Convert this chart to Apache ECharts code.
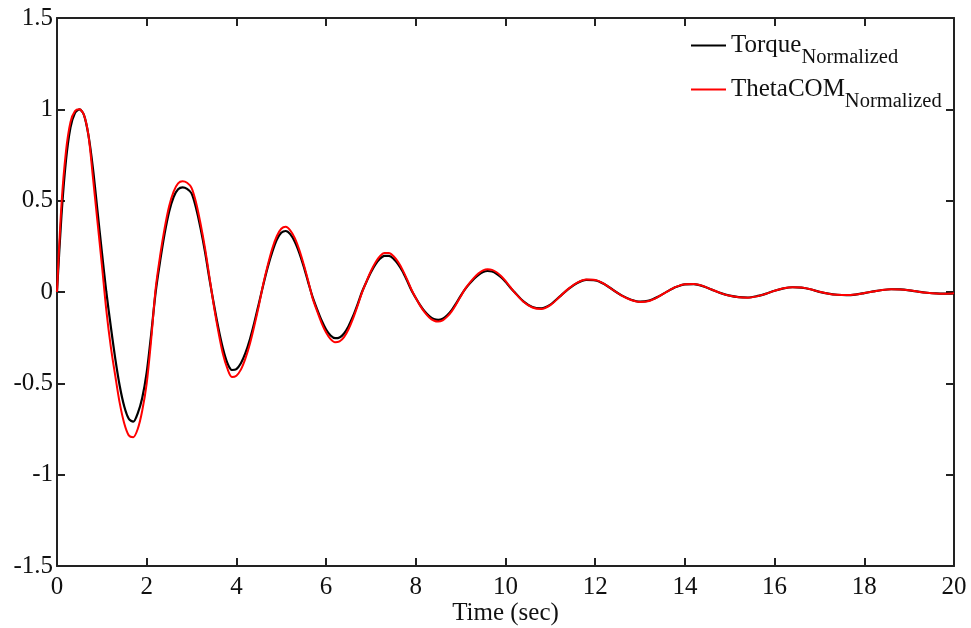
<!DOCTYPE html>
<html>
<head>
<meta charset="utf-8">
<script src="https://cdn.jsdelivr.net/npm/echarts@6/dist/echarts.min.js"></script>
<style>
html,body{margin:0;padding:0;background:#fff;}
#chart{width:971px;height:628px;}
</style>
</head>
<body>
<div id="chart"></div>
<script>
// ---- Data ----
var xTicks = [0, 2, 4, 6, 8, 10, 12, 14, 16, 18, 20];
var yTicks = [-1.5, -1, -0.5, 0, 0.5, 1, 1.5];
var seriesNames = ['Torque', 'ThetaCOM'];
var subscript = 'Normalized';
var xTitle = 'Time (sec)';

var time = [
  0, 0.1, 0.2, 0.3, 0.4, 0.5, 0.6, 0.7, 0.8, 0.9,
  1.0, 1.1, 1.2, 1.3, 1.4, 1.5, 1.6, 1.7, 1.8, 1.9,
  2.0, 2.1, 2.2, 2.3, 2.4, 2.5, 2.6, 2.7, 2.8, 2.9,
  3.0, 3.1, 3.2, 3.3, 3.4, 3.5, 3.6, 3.7, 3.8, 3.9,
  4.0, 4.1, 4.2, 4.3, 4.4, 4.5, 4.6, 4.7, 4.8, 4.9,
  5.0, 5.1, 5.2, 5.3, 5.4, 5.5, 5.6, 5.7, 5.8, 5.9,
  6.0, 6.1, 6.2, 6.3, 6.4, 6.5, 6.6, 6.7, 6.8, 6.9,
  7.0, 7.1, 7.2, 7.3, 7.4, 7.5, 7.6, 7.7, 7.8, 7.9,
  8.0, 8.1, 8.2, 8.3, 8.4, 8.5, 8.6, 8.7, 8.8, 8.9,
  9.0, 9.1, 9.2, 9.3, 9.4, 9.5, 9.6, 9.7, 9.8, 9.9,
  10.0, 10.1, 10.2, 10.4, 10.6, 10.8,
  11.0, 11.2, 11.4, 11.6, 11.8,
  12.0, 12.2, 12.4, 12.6, 12.8,
  13.0, 13.2, 13.4, 13.6, 13.8,
  14.0, 14.2, 14.4, 14.6, 14.8,
  15.0, 15.2, 15.4, 15.6, 15.8,
  16.0, 16.2, 16.4, 16.6, 16.8,
  17.0, 17.2, 17.4, 17.6, 17.8,
  18.0, 18.2, 18.4, 18.6, 18.8,
  19.0, 19.2, 19.4, 19.6, 19.8,
  20.0
];

var torque = [
  0, 0.42, 0.72, 0.90, 0.98, 1.0, 0.97, 0.86, 0.68, 0.45,
  0.22, 0.0, -0.19, -0.366, -0.516, -0.627, -0.694, -0.71, -0.664, -0.58,
  -0.44, -0.23, 0.0, 0.17, 0.32, 0.44, 0.52, 0.562, 0.573, 0.565,
  0.54, 0.46, 0.35, 0.22, 0.07, -0.07, -0.20, -0.31, -0.39, -0.427,
  -0.422, -0.39, -0.335, -0.26, -0.167, -0.064, 0.04, 0.137, 0.22, 0.286,
  0.324, 0.334, 0.317, 0.277, 0.216, 0.14, 0.054, -0.028, -0.095, -0.156,
  -0.205, -0.238, -0.253, -0.249, -0.227, -0.187, -0.133, -0.069, 0.0, 0.056,
  0.108, 0.151, 0.182, 0.198, 0.198, 0.183, 0.154, 0.115, 0.065, 0.011,
  -0.033, -0.073, -0.107, -0.132, -0.148, -0.153, -0.146, -0.127, -0.099, -0.062,
  -0.021, 0.016, 0.046, 0.073, 0.094, 0.109, 0.115, 0.112, 0.10, 0.081,
  0.056, 0.026, 0.0, -0.051, -0.082, -0.089,
  -0.069, -0.027, 0.016, 0.049, 0.066,
  0.064, 0.044, 0.011, -0.020, -0.042,
  -0.053, -0.047, -0.026, 0.002, 0.027,
  0.042, 0.043, 0.032, 0.013, -0.006,
  -0.020, -0.028, -0.030, -0.023, -0.010,
  0.007, 0.020, 0.026, 0.024, 0.015,
  0.001, -0.009, -0.015, -0.017, -0.014,
  -0.006, 0.003, 0.011, 0.015, 0.014,
  0.009, 0.002, -0.004, -0.008, -0.009,
  -0.007
];

var theta = [
  0, 0.48, 0.77, 0.93, 0.99, 1.0, 0.97, 0.86, 0.63, 0.39,
  0.15, -0.10, -0.30, -0.46, -0.61, -0.72, -0.785, -0.795, -0.75, -0.65,
  -0.50, -0.26, 0.02, 0.20, 0.35, 0.47, 0.55, 0.595, 0.606, 0.598,
  0.57, 0.49, 0.375, 0.24, 0.08, -0.08, -0.22, -0.34, -0.42, -0.465,
  -0.458, -0.425, -0.365, -0.285, -0.185, -0.075, 0.045, 0.148, 0.238, 0.305,
  0.346, 0.357, 0.338, 0.296, 0.232, 0.152, 0.062, -0.035, -0.105, -0.17,
  -0.222, -0.258, -0.275, -0.27, -0.247, -0.204, -0.146, -0.077, -0.003, 0.058,
  0.115, 0.162, 0.196, 0.213, 0.213, 0.197, 0.166, 0.124, 0.072, 0.015,
  -0.033, -0.076, -0.112, -0.139, -0.156, -0.162, -0.155, -0.135, -0.106, -0.067,
  -0.024, 0.017, 0.050, 0.079, 0.102, 0.118, 0.124, 0.121, 0.108, 0.088,
  0.061, 0.029, -0.002, -0.053, -0.085, -0.093,
  -0.072, -0.028, 0.017, 0.051, 0.068,
  0.066, 0.045, 0.011, -0.021, -0.044,
  -0.055, -0.049, -0.027, 0.002, 0.028,
  0.043, 0.044, 0.033, 0.013, -0.006,
  -0.021, -0.029, -0.031, -0.024, -0.010,
  0.007, 0.020, 0.026, 0.024, 0.015,
  0.001, -0.009, -0.015, -0.017, -0.014,
  -0.006, 0.003, 0.011, 0.015, 0.014,
  0.009, 0.002, -0.004, -0.008, -0.009,
  -0.007
];

function pairs(xs, ys) {
  var out = [];
  var n = Math.min(xs.length, ys.length);
  for (var i = 0; i < n; i++) out.push([xs[i], ys[i]]);
  return out;
}

var FONT = "'Liberation Serif', 'Times New Roman', serif";
var axisLineStyle = { color: '#222', width: 2 };

var chart = echarts.init(document.getElementById('chart'), null, { renderer: 'canvas' });
var option = {
  backgroundColor: '#fff',
  animation: false,
  grid: { left: 57, right: 17, top: 18, bottom: 62, containLabel: false, outerBoundsMode: 'none' },
  legend: {
    orient: 'vertical',
    left: 686,
    top: 18,
    icon: 'rect',
    itemWidth: 35,
    itemHeight: 2,
    itemGap: -1,
    data: seriesNames,
    formatter: function (name) { return '{a|' + name + '}{b|' + subscript + '}'; },
    textStyle: {
      fontFamily: FONT,
      color: '#111',
      rich: {
        a: { fontFamily: FONT, fontSize: 25, lineHeight: 26, color: '#111' },
        b: { fontFamily: FONT, fontSize: 20.5, lineHeight: 26, padding: [24, 0, 0, 0], color: '#111' }
      }
    }
  },
  xAxis: [{
    type: 'value', min: 0, max: 20, interval: 2, position: 'bottom',
    name: xTitle, nameLocation: 'middle', nameGap: 35, nameMoveOverlap: false,
    nameTextStyle: { fontFamily: FONT, fontSize: 25, color: '#111' },
    axisLine: { show: true, onZero: false, lineStyle: axisLineStyle },
    axisTick: { show: true, inside: true, length: 8, lineStyle: axisLineStyle },
    axisLabel: { fontFamily: FONT, fontSize: 25, color: '#111', margin: 9 },
    splitLine: { show: false }
  }, {
    type: 'value', min: 0, max: 20, interval: 2, position: 'top',
    axisLine: { show: true, onZero: false, lineStyle: axisLineStyle },
    axisTick: { show: true, inside: true, length: 8, lineStyle: axisLineStyle },
    axisLabel: { show: false },
    splitLine: { show: false }
  }],
  yAxis: [{
    type: 'value', min: -1.5, max: 1.5, interval: 0.5, position: 'left',
    axisLine: { show: true, onZero: false, lineStyle: axisLineStyle },
    axisTick: { show: true, inside: true, length: 8, lineStyle: axisLineStyle },
    axisLabel: { fontFamily: FONT, fontSize: 25, color: '#111', margin: 4 },
    splitLine: { show: false }
  }, {
    type: 'value', min: -1.5, max: 1.5, interval: 0.5, position: 'right',
    axisLine: { show: true, onZero: false, lineStyle: axisLineStyle },
    axisTick: { show: true, inside: true, length: 8, lineStyle: axisLineStyle },
    axisLabel: { show: false },
    splitLine: { show: false }
  }],
  series: [{
    name: seriesNames[0], type: 'line', xAxisIndex: 0, yAxisIndex: 0,
    data: pairs(time, torque), smooth: 0.3, symbol: 'none',
    lineStyle: { color: '#000', width: 2.2 }, itemStyle: { color: '#000' }, z: 2
  }, {
    name: seriesNames[1], type: 'line', xAxisIndex: 0, yAxisIndex: 0,
    data: pairs(time, theta), smooth: 0.3, symbol: 'none',
    lineStyle: { color: '#ff0000', width: 2 }, itemStyle: { color: '#ff0000' }, z: 3
  }]
};
chart.setOption(option);
</script>
</body>
</html>
